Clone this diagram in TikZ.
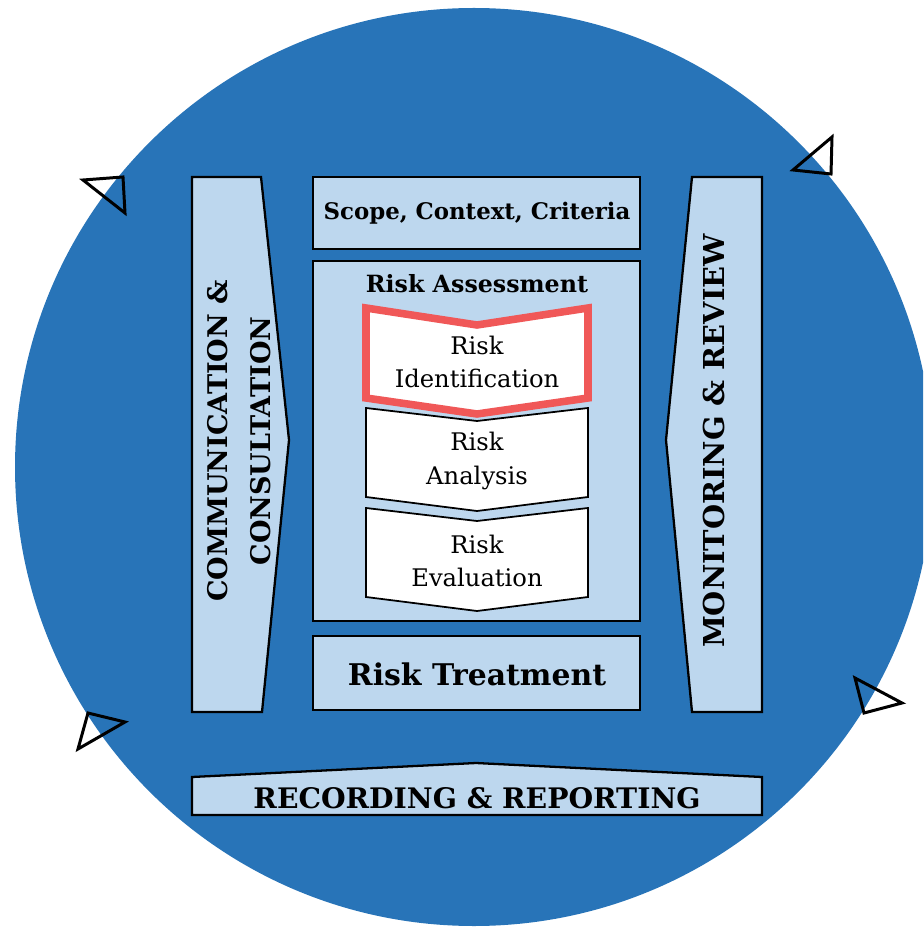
\documentclass[tikz,border=0pt]{standalone}
\usepackage{fontspec}
\setmainfont{DejaVu Serif}
\definecolor{isoblue}{RGB}{40,116,184}
\definecolor{isolight}{RGB}{189,215,238}
\definecolor{isored}{RGB}{240,88,88}
\tikzset{
  panel/.style={fill=isolight, draw=black, line width=1.3pt, line join=miter},
  chevron/.style={fill=white, draw=black, line width=1pt, line join=miter},
  redchevron/.style={fill=white, draw=isored, line width=4.3pt, line join=miter},
  title/.style={font=\bfseries\fontsize{13}{15}\selectfont, text=black, inner sep=0pt},
  steptext/.style={font=\fontsize{13.8}{19}\selectfont, align=center, inner sep=0pt},
  sidetext/.style={font=\bfseries\fontsize{15.4}{24.4}\selectfont, align=center, rotate=90, inner sep=0pt},
  marker/.style={draw=black, line width=1.7pt, line join=miter},
}
\begin{document}
\begin{tikzpicture}[x=0.02cm, y=-0.02cm]
  \useasboundingbox (0,0) rectangle (923,928);
  \clip (0,0) rectangle (923,928);

  % Background circle
  \fill[isoblue] (474,467) circle (459);

  % Markers on the circle
  \draw[marker] (83,180) -- (123,177) -- (125,213) -- cycle;
  \draw[marker] (832,137) -- (793,170) -- (831,174) -- cycle;
  \draw[marker] (88,713) -- (125,722) -- (78,749) -- cycle;
  \draw[marker] (855,678) -- (902,703) -- (864,713) -- cycle;

  % Side bands
  \draw[panel] (192,177) -- (261,177) -- (289,440) -- (262,712) -- (192,712) -- cycle;
  \draw[panel] (762,177) -- (692,177) -- (666,440) -- (692,712) -- (762,712) -- cycle;
  \node[sidetext] (comm) at (239,441) {COMMUNICATION \&\\CONSULTATION};
  \node[sidetext, font=\bfseries\fontsize{16.4}{20}\selectfont] (monitor) at (714,441) {MONITORING \& REVIEW};

  % Centre column
  \draw[panel] (313,177) rectangle (640,249);
  \node[title] (scope) at (477,213) {Scope, Context, Criteria};
  \draw[panel] (313,261) rectangle (640,621);
  \node[title, font=\bfseries\fontsize{13.5}{15}\selectfont] (assess) at (477,284) {Risk Assessment};
  \draw[panel] (313,636) rectangle (640,710);
  \node[title, font=\bfseries\fontsize{17}{20}\selectfont] (treat) at (477,674) {Risk Treatment};

  % Assessment steps
  \draw[redchevron] (366,308) -- (477,325) -- (588,308) -- (588,398) -- (477,414) -- (366,398) -- cycle;
  \node[steptext] (ident) at (477,362) {Risk\\Identification};
  \draw[chevron] (366,408) -- (477,421) -- (588,408) -- (588,497) -- (477,511) -- (366,497) -- cycle;
  \node[steptext] (analysis) at (477,461) {Risk\\Analysis};
  \draw[chevron] (366,508) -- (477,521) -- (588,508) -- (588,597) -- (477,611) -- (366,597) -- cycle;
  \node[steptext] (evaluation) at (477,561) {Risk\\Evaluation};

  % Bottom band
  \draw[panel] (192,777) -- (476,763) -- (762,777) -- (762,815) -- (192,815) -- cycle;
  \node[title, font=\bfseries\fontsize{16.1}{20}\selectfont] (record) at (477,798) {RECORDING \& REPORTING};
\end{tikzpicture}
\end{document}
